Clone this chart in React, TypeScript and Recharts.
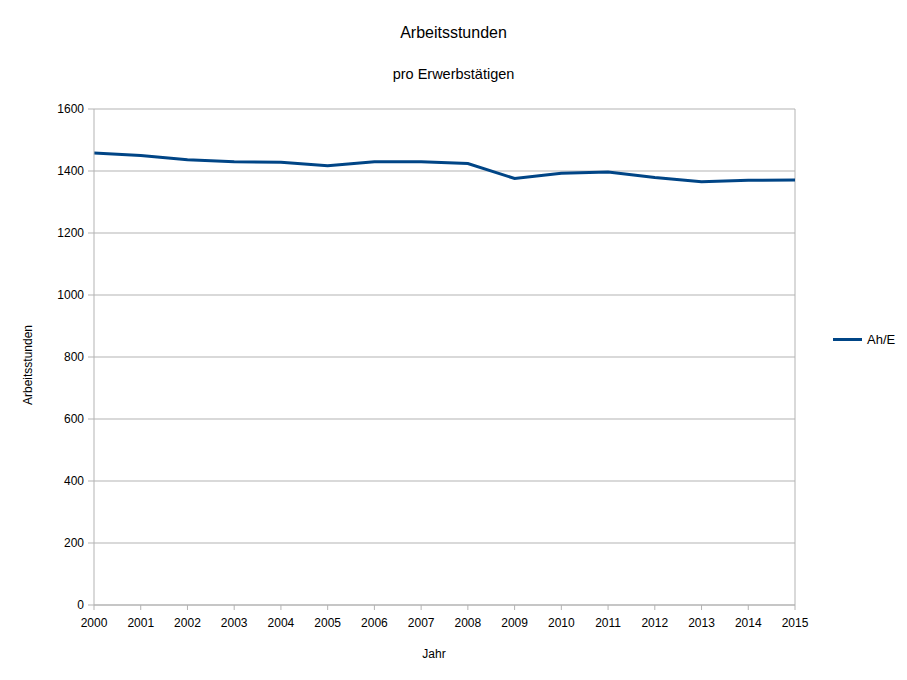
import React from 'react'
import { LineChart, Line, XAxis, YAxis, CartesianGrid, ReferenceLine } from 'recharts'

const years = ['2000', '2001', '2002', '2003', '2004', '2005', '2006', '2007', '2008', '2009', '2010', '2011', '2012', '2013', '2014', '2015']
const hours = [1458, 1450, 1436, 1430, 1428, 1417, 1430, 1430, 1424, 1376, 1393, 1397, 1379, 1365, 1370, 1371]
const yTicks = [0, 200, 400, 600, 800, 1000, 1200, 1400, 1600]
const seriesName = 'Ah/E'

const data = years.map((year, i) => ({ year, ah: hours[i] }))

const font = '"Liberation Sans", Arial, sans-serif'
const gridColor = '#b3b3b3'
const lineColor = '#004586'

export default function App() {
  return (
    <div style={{ position: 'absolute', left: 0, top: 0, width: 907, height: 680, background: '#fff', fontFamily: font }}>
      <div style={{ position: 'absolute', left: 0, width: 907, top: 24, textAlign: 'center', fontSize: 16, color: '#000' }}>
        Arbeitsstunden
      </div>
      <div style={{ position: 'absolute', left: 0, width: 907, top: 66, textAlign: 'center', fontSize: 14.5, color: '#000' }}>
        pro Erwerbstätigen
      </div>
      {/* Achsentitel */}
      <div style={{ position: 'absolute', left: -72, top: 358, width: 200, height: 14, lineHeight: '14px', textAlign: 'center', fontSize: 12, color: '#000', transform: 'rotate(-90deg)' }}>
        Arbeitsstunden
      </div>
      <div style={{ position: 'absolute', left: 384, top: 647, width: 100, height: 14, lineHeight: '14px', textAlign: 'center', fontSize: 12, color: '#000' }}>
        Jahr
      </div>
      {/* Legende rechts neben dem Diagramm */}
      <div style={{ position: 'absolute', left: 833, top: 332, display: 'flex', alignItems: 'center', fontSize: 13, color: '#000' }}>
        <span style={{ display: 'inline-block', width: 29, height: 3, background: lineColor, marginRight: 5 }} />
        {seriesName}
      </div>
      <LineChart
        width={907}
        height={680}
        data={data}
        margin={{ top: 109, right: 112, bottom: 35, left: 34 }}
        style={{ fontFamily: font }}
      >
        <CartesianGrid vertical={false} stroke={gridColor} />
        <ReferenceLine x="2015" stroke={gridColor} />
        <XAxis
          dataKey="year"
          ticks={years}
          interval={0}
          height={40}
          tickSize={5}
          tickMargin={8}
          stroke={gridColor}
          tick={{ fill: '#000', fontSize: 12 }}
        />
        <YAxis
          domain={[0, 1600]}
          ticks={yTicks}
          width={60}
          tickSize={6}
          tickMargin={4}
          stroke={gridColor}
          tick={{ fill: '#000', fontSize: 12 }}
        />
        <Line
          type="linear"
          dataKey="ah"
          name={seriesName}
          stroke={lineColor}
          strokeWidth={3}
          dot={false}
          isAnimationActive={false}
        />
      </LineChart>
    </div>
  )
}
